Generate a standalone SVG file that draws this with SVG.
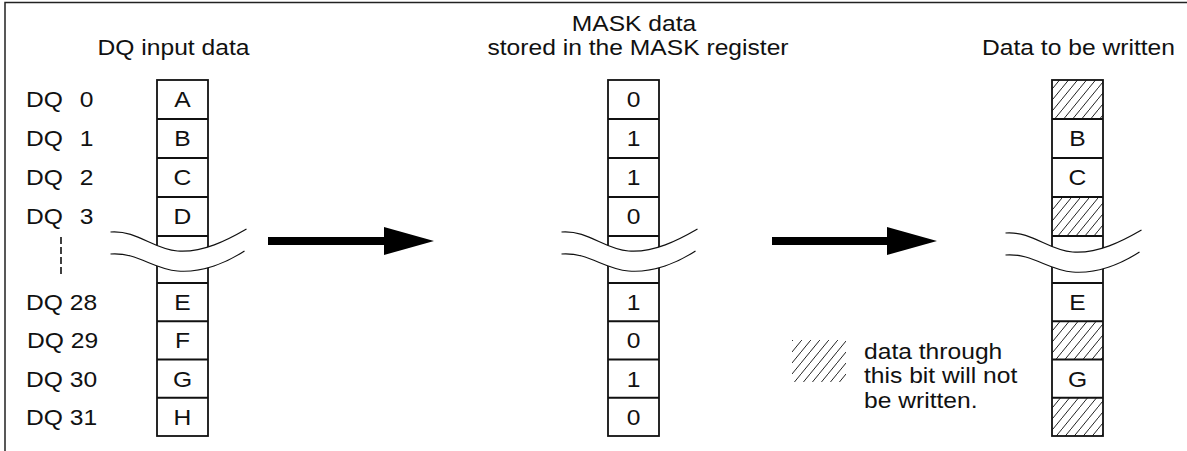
<svg xmlns="http://www.w3.org/2000/svg" width="1187" height="451" viewBox="0 0 1187 451">
  <style>
    text { font-family: "Liberation Sans", Arial, sans-serif; font-size: 22px; fill: #111;
           transform-box: fill-box; transform-origin: left center; transform: scaleX(1.12); }
    .mid { text-anchor: middle; transform-origin: center; }
    .cell { fill: none; stroke: #111; stroke-width: 1.8; }
    .wave { fill: none; stroke: #111; stroke-width: 1.2; }
    .band { fill: #fff; stroke: none; }
    .frame { fill: none; stroke: #222; stroke-width: 1.5; }
  </style>
  <defs>
    <!-- diagonal hatching for masked bits -->
    <pattern id="hatch" patternUnits="userSpaceOnUse" width="9" height="11">
      <path d="M-1,12.2 L10,-1.2" stroke="#222" stroke-width="1"/>
    </pattern>
    <!-- broken-column symbol: white band between two wavy lines -->
    <g id="break">
      <path class="band" d="M-72,0 C-45,-2 -30,17 -5,19 C20,21 45,8 64,-3 L62,19 C45,30 20,41 -5,39 C-30,37 -45,20 -72,22 Z"/>
      <path class="wave" d="M-72,0 C-45,-2 -30,17 -5,19 C20,21 45,8 64,-3"/>
      <path class="wave" d="M-72,22 C-45,20 -30,37 -5,39 C20,41 45,30 62,19"/>
    </g>
    <!-- column of 8 cells, origin at left/top of the column -->
    <g id="column">
      <rect class="cell" x="0" y="80" width="51" height="356"/>
      <path class="cell" d="M0,119 H51 M0,158 H51 M0,197 H51 M0,236 H51 M0,283 H51 M0,321.25 H51 M0,359.5 H51 M0,397.75 H51"/>
    </g>
    <marker id="head" markerUnits="userSpaceOnUse" markerWidth="50" markerHeight="28" refX="0" refY="14" orient="auto">
      <path d="M0,0 L50,14 L0,28 Z" fill="#000"/>
    </marker>
  </defs>

  <rect width="1187" height="451" fill="#fff"/>
  <path class="frame" d="M5,451 V2.5 H1187"/>

  <!-- DQ input data -->
  <g id="dq-input">
    <text class="mid" x="173.5" y="55">DQ input data</text>
    <text x="26" y="107.5">DQ <tspan x="74">0</tspan></text>
    <text x="26" y="146.5">DQ <tspan x="74">1</tspan></text>
    <text x="26" y="185.5">DQ <tspan x="74">2</tspan></text>
    <text x="26" y="224.5">DQ <tspan x="74">3</tspan></text>
    <text x="26" y="310">DQ 28</text>
    <text x="27" y="348.5">DQ 29</text>
    <text x="26" y="386.8">DQ 30</text>
    <text x="26" y="425">DQ 31</text>
    <path d="M61,237 V277" stroke="#111" stroke-width="1.6" stroke-dasharray="7,3"/>
    <use href="#column" x="157"/>
    <text class="mid" x="182.5" y="107.5">A</text>
    <text class="mid" x="182.5" y="146.5">B</text>
    <text class="mid" x="182.5" y="185.5">C</text>
    <text class="mid" x="182.5" y="224.5">D</text>
    <text class="mid" x="182.5" y="310">E</text>
    <text class="mid" x="182.5" y="348.5">F</text>
    <text class="mid" x="182.5" y="386.8">G</text>
    <text class="mid" x="182.5" y="425">H</text>
    <use href="#break" transform="translate(182.5,232)"/>
  </g>

  <!-- MASK register contents -->
  <g id="mask-register">
    <text class="mid" x="634" y="31">MASK data</text>
    <text class="mid" x="638" y="55">stored in the MASK register</text>
    <use href="#column" x="608"/>
    <text class="mid" x="633.5" y="107.5">0</text>
    <text class="mid" x="633.5" y="146.5">1</text>
    <text class="mid" x="633.5" y="185.5">1</text>
    <text class="mid" x="633.5" y="224.5">0</text>
    <text class="mid" x="633.5" y="310">1</text>
    <text class="mid" x="633.5" y="348.5">0</text>
    <text class="mid" x="633.5" y="386.8">1</text>
    <text class="mid" x="633.5" y="425">0</text>
    <use href="#break" transform="translate(633.5,232)"/>
  </g>

  <!-- resulting write data -->
  <g id="write-data">
    <text class="mid" x="1078.5" y="55">Data to be written</text>
    <rect x="1052" y="80" width="51" height="39" fill="url(#hatch)"/>
    <rect x="1052" y="197" width="51" height="39" fill="url(#hatch)"/>
    <rect x="1052" y="321.25" width="51" height="38.25" fill="url(#hatch)"/>
    <rect x="1052" y="397.75" width="51" height="38.25" fill="url(#hatch)"/>
    <use href="#column" x="1052"/>
    <text class="mid" x="1077.5" y="146.5">B</text>
    <text class="mid" x="1077.5" y="185.5">C</text>
    <text class="mid" x="1077.5" y="310">E</text>
    <text class="mid" x="1077.5" y="386.8">G</text>
    <use href="#break" transform="translate(1077.5,233)"/>
  </g>

  <!-- legend -->
  <g id="legend">
    <rect x="792" y="340" width="54" height="42" fill="url(#hatch)"/>
    <text x="864" y="359">data through</text>
    <text x="864" y="383">this bit will not</text>
    <text x="864" y="408">be written.</text>
  </g>

  <!-- flow arrows -->
  <g id="connectors">
    <line x1="268" y1="241" x2="384" y2="241" stroke="#000" stroke-width="8" marker-end="url(#head)"/>
    <line x1="772" y1="241" x2="887" y2="241" stroke="#000" stroke-width="8" marker-end="url(#head)"/>
  </g>
</svg>
